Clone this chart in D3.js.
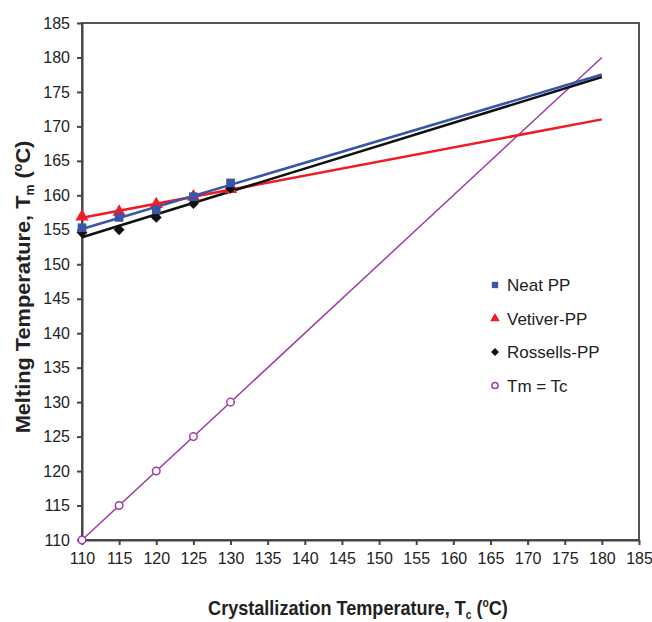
<!DOCTYPE html>
<html>
<head>
<meta charset="utf-8">
<script src="https://cdn.jsdelivr.net/npm/d3@7"></script>
<style>
  body { margin: 0; background: #fff; }
  svg { font-family: "Liberation Sans", Arial, sans-serif; }
  .axis text { font-size: 16px; fill: #222; }
  .axis path, .axis line { stroke: #444; stroke-width: 2px; }
</style>
</head>
<body>
<div id="chart"></div>
<script>
// crystallization temperatures (x)
let tc = [110, 115, 120, 125, 130];

// melting temperatures
let neatPP = [155.3, 156.8, 157.9, 159.8, 161.8];
let vetiverPP = [156.9, 157.6, 158.7, 159.8, 160.9];
let rossellsPP = [154.6, 155.0, 156.8, 158.8, 161.0];
let tmEqualsTc = [110, 115, 120, 125, 130];

let xTicks = d3.range(110, 186, 5);
let yTicks = d3.range(110, 186, 5);
let trendRange = [110, 180];

let seriesNames = ["Neat PP", "Vetiver-PP", "Rossells-PP", "Tm = Tc"];
let seriesColors = ["#3a55a8", "#ee1c24", "#111111", "#9b3fa3"];
let seriesSymbols = [d3.symbolSquare, d3.symbolTriangle, d3.symbolDiamond2, d3.symbolCircle];

function MeltChart(parent) {
    let vis = this;
    vis.parent = d3.select(parent);
    vis.series = [neatPP, vetiverPP, rossellsPP, tmEqualsTc].map(function(values, i) {
        return {
            name: seriesNames[i],
            color: seriesColors[i],
            symbol: seriesSymbols[i],
            points: tc.map((x, j) => ({x: x, y: values[j]}))
        };
    });
    vis.initVis();
}

// title with subscript and degree sign, squeezed to a given length
function axisTitle(g, main, sub, length) {
    let t = g.append("text")
        .attr("text-anchor", "middle")
        .style("font-weight", "bold")
        .style("font-size", "21px")
        .style("fill", "#222");
    t.append("tspan").text(main);
    t.append("tspan").text(sub).attr("dy", 4).style("font-size", "12px");
    t.append("tspan").text(" (").attr("dy", -4);
    t.append("tspan").text("o").attr("dy", -8).style("font-size", "12px");
    t.append("tspan").text("C)").attr("dy", 8);
    let w = t.node().getComputedTextLength();
    t.attr("transform", "scale(" + (length / w) + ",1)");
    return t;
}

MeltChart.prototype.initVis = function() {
    let vis = this;

    vis.margin = {"top": 23, "left": 82, "right": 13, "bottom": 82};
    vis.width = 652 - vis.margin.left - vis.margin.right;
    vis.height = 622 - vis.margin.top - vis.margin.bottom;

    vis.root = vis.parent.append("svg")
        .attr("width", 652)
        .attr("height", 622);
    vis.svg = vis.root.append("g")
        .attr("transform", "translate(" + vis.margin.left + "," + vis.margin.top + ")");

    vis.x = d3.scaleLinear().domain([110, 185]).range([0, vis.width]);
    vis.y = d3.scaleLinear().domain([110, 185]).range([vis.height, 0]);

    // frame
    vis.svg.append("rect")
        .attr("width", vis.width)
        .attr("height", vis.height)
        .attr("fill", "none")
        .attr("stroke", "#555")
        .attr("stroke-width", 2);

    vis.xAxis = d3.axisBottom(vis.x).tickValues(xTicks).tickSize(5).tickSizeOuter(0).tickPadding(8);
    vis.yAxis = d3.axisLeft(vis.y).tickValues(yTicks).tickSize(5).tickSizeOuter(0).tickPadding(7);

    vis.svg.append("g")
        .attr("class", "axis x-axis")
        .attr("transform", "translate(0," + vis.height + ")")
        .call(vis.xAxis);
    vis.svg.append("g")
        .attr("class", "axis y-axis")
        .call(vis.yAxis);

    // axis titles
    let xg = vis.root.append("g").attr("transform", "translate(358,615)");
    axisTitle(xg, "Crystallization Temperature, T", "c", 300);

    let yg = vis.root.append("g").attr("transform", "translate(30,287) rotate(-90)");
    axisTitle(yg, "Melting Temperature, T", "m", 293);

    vis.wrangleData();
};

MeltChart.prototype.wrangleData = function() {
    let vis = this;

    // linear trend lines (least squares) over the measured points
    vis.series.forEach(function(s) {
        let mx = d3.mean(s.points, d => d.x);
        let my = d3.mean(s.points, d => d.y);
        let sxy = d3.sum(s.points, d => (d.x - mx) * (d.y - my));
        let sxx = d3.sum(s.points, d => (d.x - mx) * (d.x - mx));
        let slope = sxy / sxx;
        s.trend = trendRange.map(x => ({x: x, y: my + slope * (x - mx)}));
    });

    vis.updateVis();
};

MeltChart.prototype.updateVis = function() {
    let vis = this;

    let line = d3.line().x(d => vis.x(d.x)).y(d => vis.y(d.y));

    // draw order: purple, red, black, blue
    let order = [3, 1, 2, 0];
    order.forEach(function(i) {
        let s = vis.series[i];
        vis.svg.append("path")
            .datum(s.trend)
            .attr("d", line)
            .attr("fill", "none")
            .attr("stroke", s.color)
            .attr("stroke-width", i == 3 ? 1.5 : 2.5);
    });

    order.forEach(function(i) {
        let s = vis.series[i];
        let open = i == 3;
        vis.svg.selectAll("path.pt" + i)
            .data(s.points)
            .enter()
            .append("path")
            .attr("class", "pt" + i)
            .attr("transform", d => "translate(" + vis.x(d.x) + "," + vis.y(d.y) + ")")
            .attr("d", d3.symbol().type(s.symbol).size(open ? 45 : 75))
            .attr("fill", open ? "#fff" : s.color)
            .attr("stroke", s.color)
            .attr("stroke-width", open ? 1.5 : 0);
    });

    // legend
    let legend = vis.root.append("g")
        .attr("transform", "translate(495,285)");
    vis.series.forEach(function(s, i) {
        let g = legend.append("g").attr("transform", "translate(0," + (i * 33.5) + ")");
        let open = i == 3;
        g.append("path")
            .attr("d", d3.symbol().type(s.symbol).size(open ? 30 : 40))
            .attr("fill", open ? "#fff" : s.color)
            .attr("stroke", s.color)
            .attr("stroke-width", open ? 1.5 : 0);
        g.append("text")
            .attr("x", 12)
            .attr("y", 6)
            .style("font-size", "17px")
            .style("fill", "#222")
            .text(s.name);
    });
};

new MeltChart("#chart");
</script>
</body>
</html>
